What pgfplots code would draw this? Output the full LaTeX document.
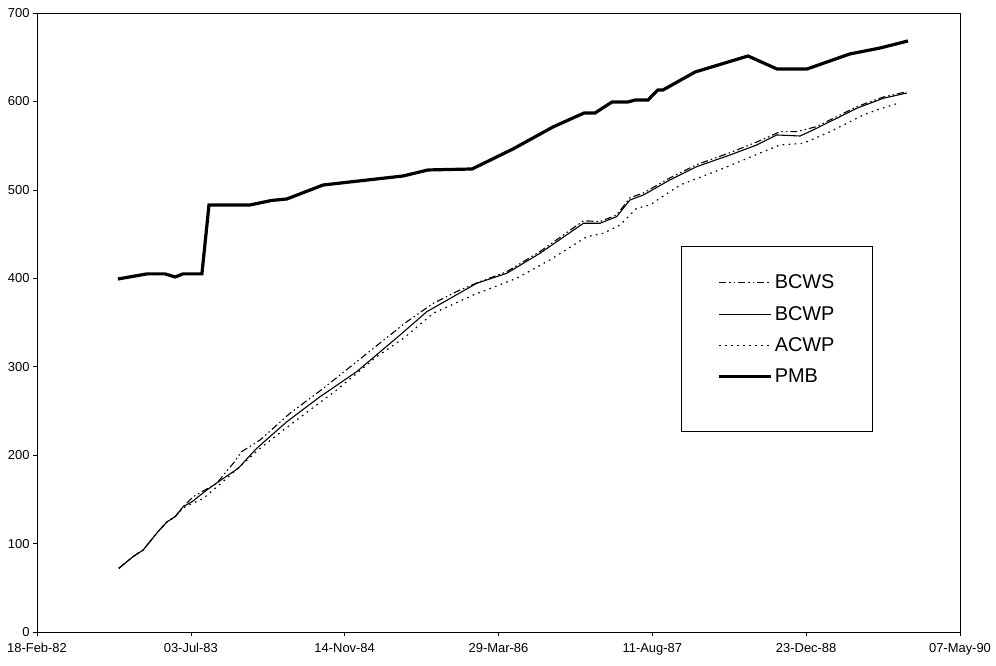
\documentclass[border=0pt]{standalone}
\usepackage{pgfplots}
\pgfplotsset{compat=1.18}
\usepackage{fontspec}
\setmainfont{Liberation Sans}
\begin{document}
\begin{tikzpicture}
\begin{axis}[
  scale only axis,
  width=923bp, height=619bp,
  xmin=30000, xmax=33000, ymin=0, ymax=700,
  xtick={30000,30500,31000,31500,32000,32500,33000},
  xticklabels={18-Feb-82,03-Jul-83,14-Nov-84,29-Mar-86,11-Aug-87,23-Dec-88,07-May-90},
  ytick={0,100,200,300,400,500,600,700},
  xtick pos=bottom, ytick pos=left,
  tick align=outside, major tick length=4bp,
  tick style={black, line width=0.6bp},
  axis line style={black, line width=0.8bp},
  ticklabel style={font=\fontsize{13}{15}\selectfont},
  xticklabel style={yshift=-4bp},
  /pgf/number format/assume math mode=true,
  yticklabel style={/pgf/number format/.cd, fixed, set thousands separator={}},
  scaled ticks=false,
  legend cell align=left,
  legend style={at={(0.698,0.624)}, anchor=north west, draw=black, line width=0.6bp,
    font=\fontsize{20}{22}\selectfont, inner xsep=36bp, inner ysep=28bp, row sep=14bp,
    nodes={inner xsep=2bp, inner ysep=1bp}},
  legend image code/.code={\draw[#1] (0bp,0bp) -- (52bp,0bp);},
]
\addplot[black, line width=1.1bp, dash pattern=on 7bp off 3bp on 1.5bp off 3bp on 1.5bp off 3bp] coordinates {
(30266,72.0)(30312,85.2)(30345,92.7)(30393,113.4)(30423,124.7)(30449,130.4)(30475,141.7)(30508,153.0)
(30584,168.2)(30638,190.8)(30665,203.9)(30725,217.1)(30822,247.3)(30931,275.6)(31039,305.7)(31202,350.9)
(31288,371.7)(31375,386.8)(31440,396.2)(31527,407.5)(31635,430.3)(31776,465.0)(31830,464.2)(31884,471.5)
(31927,491.0)(31971,496.5)(32057,513.5)(32144,528.5)(32252,542.0)(32339,554.0)(32415,565.8)(32469,565.8)
(32534,571.5)(32664,594.0)(32751,605.0)(32827,611.0)};
\addlegendentry{BCWS}
\addplot[black, line width=1.1bp] coordinates {
(30266,72.0)(30312,85.2)(30345,92.7)(30393,113.4)(30423,124.7)(30449,130.4)(30475,141.7)(30504,147.4)
(30552,160.6)(30606,173.8)(30654,185.1)(30714,207.7)(30812,237.8)(30920,266.1)(31039,294.4)(31180,335.9)
(31267,362.2)(31429,394.3)(31527,405.7)(31635,428.3)(31776,462.2)(31830,462.2)(31884,469.7)(31927,488.5)
(31971,494.2)(32057,511.2)(32144,526.2)(32252,539.4)(32339,550.7)(32404,562.1)(32480,560.9)(32534,569.6)
(32664,592.2)(32751,603.6)(32827,609.5)};
\addlegendentry{BCWP}
\addplot[black, line width=1.2bp, dash pattern=on 1.6bp off 4.4bp] coordinates {
(30266,72.0)(30312,85.2)(30345,92.7)(30393,113.4)(30423,124.7)(30449,130.4)(30475,140.5)(30541,151.2)
(30606,170.5)(30725,207.7)(30801,228.4)(30887,251.1)(30974,273.7)(31104,311.3)(31191,332.1)(31288,360.4)
(31418,381.1)(31559,400.0)(31667,420.7)(31787,447.0)(31841,450.9)(31895,460.3)(31949,479.2)(31992,482.9)
(32090,505.5)(32231,524.4)(32361,543.2)(32415,550.7)(32491,552.7)(32578,565.8)(32686,584.7)(32729,590.3)
(32805,598.6)};
\addlegendentry{ACWP}
\addplot[black, line width=3.2bp] coordinates {
(30263,399.2)(30358,405.0)(30416,405.0)(30449,401.5)(30475,405.0)(30536,405.0)(30559,482.9)(30692,482.9)
(30762,488.0)(30812,489.7)(30930,505.5)(31190,515.7)(31271,522.5)(31414,523.6)(31547,546.2)(31677,571.1)
(31778,586.9)(31814,587.0)(31869,599.4)(31921,599.4)(31944,601.6)(31986,601.6)(32018,613.0)(32035,613.0)
(32139,633.3)(32311,651.4)(32405,636.7)(32503,636.7)(32642,653.7)(32740,660.4)(32831,668.4)};
\addlegendentry{PMB}
\addlegendimage{empty legend}
\addlegendentry{}
\end{axis}
\path (-37bp,-34bp) rectangle (959bp,632bp);
\end{tikzpicture}
\end{document}
